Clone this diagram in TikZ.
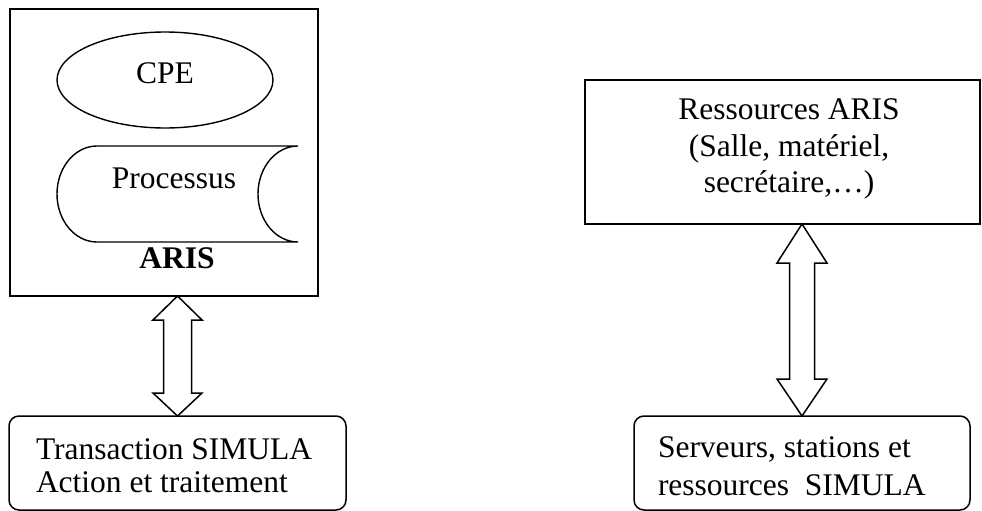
\documentclass[tikz,border=0pt]{standalone}
\usepackage{fontspec}
\setmainfont{Liberation Serif}
\usetikzlibrary{shapes.geometric,calc}
\begin{document}
\begin{tikzpicture}[x=1pt,y=1pt,
  every node/.style={inner sep=0pt, outer sep=0pt},
  frame/.style={draw, line width=1.5pt, rectangle, anchor=north west},
  rbox/.style={frame, rounded corners=10pt},
  txt/.style={font=\fontsize{31.5}{36}\selectfont},
  shapeline/.style={draw, line width=1.4pt},
  dblarrow/.style={draw, line width=1.5pt, fill=white, line join=miter}]
\useasboundingbox (0,0) rectangle (982,-511);

% ARIS container
\node[frame, minimum width=308pt, minimum height=287pt] (aris) at (10,-9) {};
\node[shapeline, ellipse, minimum width=216pt, minimum height=96pt] (cpe) at (165,-80) {};
\node[txt, anchor=base] (cpelbl) at (165,-84) {CPE};
\draw[shapeline] (97,-146) -- (298,-146)
  arc[start angle=90, end angle=270, x radius=40, y radius=48]
  -- (97,-242)
  arc[start angle=270, end angle=90, x radius=40, y radius=48] -- cycle;
\node[txt, anchor=base] (proc) at (174,-188) {Processus};
\node[txt, anchor=base, font=\fontsize{31.5}{36}\selectfont\bfseries] (arislbl) at (177,-268) {ARIS};

% Transaction box
\node[rbox, minimum width=337pt, minimum height=94pt] (trans) at (9,-416) {};
\node[txt, anchor=west, align=left, font=\fontsize{31.5}{33}\selectfont] (translbl) at (36,-466) {Transaction SIMULA\\Action et traitement};

% Ressources box
\node[frame, minimum width=395pt, minimum height=144pt] (res) at (585,-80) {};
\node[txt, align=center, font=\fontsize{31.5}{36.5}\selectfont] (reslbl) at (789,-149) {Ressources ARIS\\(Salle, matériel,\\secrétaire,…)};

% Serveurs box
\node[rbox, minimum width=336pt, minimum height=94pt] (serv) at (634,-416) {};
\node[txt, anchor=west, align=left, font=\fontsize{31.5}{38}\selectfont] (servlbl) at (658,-466) {Serveurs, stations et\\ressources\ \ SIMULA};

% double arrows
\draw[dblarrow] let \p1=(aris.south), \p2=(trans.north) in
  (\x2,\y1) -- (\x2-24.5,\y1-24) -- (\x2-14,\y1-24) -- (\x2-14,\y2+23)
  -- (\x2-24.5,\y2+23) -- (\x2,\y2) -- (\x2+24.5,\y2+23) -- (\x2+14,\y2+23)
  -- (\x2+14,\y1-24) -- (\x2+24.5,\y1-24) -- cycle;
\draw[dblarrow] let \p1=(res.south), \p2=(serv.north) in
  (\x2,\y1) -- (\x2-25,\y1-39) -- (\x2-12.5,\y1-39) -- (\x2-12.5,\y2+37)
  -- (\x2-25,\y2+37) -- (\x2,\y2) -- (\x2+25,\y2+37) -- (\x2+12.5,\y2+37)
  -- (\x2+12.5,\y1-39) -- (\x2+25,\y1-39) -- cycle;
\end{tikzpicture}
\end{document}
